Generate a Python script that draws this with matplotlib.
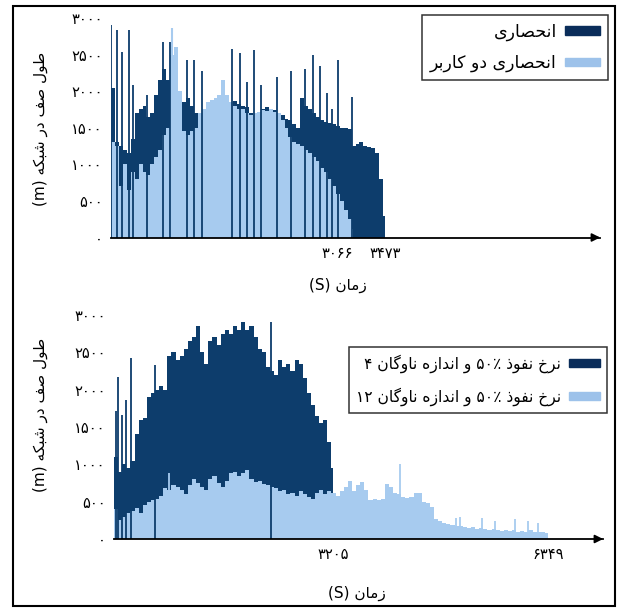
import re
import numpy as np
import matplotlib
matplotlib.use("Agg")
import matplotlib.pyplot as plt
from matplotlib.patches import Patch, Rectangle
from matplotlib.ticker import FuncFormatter

plt.rcParams['font.family'] = ['DejaVu Sans']

# ---- data ----
# top panel: exclusive vs exclusive two-user
t_top_dark = np.append(np.arange(0, 3473, 50), 3473)
top_dark = [2050, 1300, 1250, 1200, 1150, 1350, 1700, 1750, 1800, 1650,
            1700, 1950, 2150, 2300, 2150, 2050, 1900, 1750, 1850, 1900,
            1800, 1700, 1650, 1650, 1700, 1750, 1800, 1850, 1850, 1850,
            1850, 1870, 1820, 1800, 1780, 1700, 1680, 1720, 1750, 1780,
            1760, 1740, 1700, 1680, 1620, 1600, 1550, 1500, 1900, 1800,
            1750, 1700, 1650, 1600, 1580, 1560, 1550, 1530, 1500, 1500,
            1480, 1250, 1280, 1300, 1250, 1240, 1230, 1150, 800, 300, 0]
top_dark_spike_t = [0, 76, 140, 229, 280, 458, 662, 751, 967, 1056, 1158, 1539, 1641,
                    1730, 1819, 1908, 2099, 2277, 2455, 2557, 2646, 2735, 2799, 2875, 3053]
top_dark_spike_h = [2900, 2830, 2540, 2830, 2080, 1950, 2670, 2670, 2420, 2420, 2280, 2570, 2520,
                    2120, 2560, 2080, 2190, 2270, 2300, 2490, 2340, 1970, 1760, 2420, 1920]

t_top_light = np.append(np.arange(0, 3066, 50), 3066)
top_light = [1300, 1250, 700, 1000, 650, 900, 800, 1000, 900, 850,
             1000, 1100, 1200, 1400, 1500, 2500, 2600, 2000, 1450, 1400,
             1450, 1500, 1700, 1750, 1850, 1880, 1900, 1950, 2150, 1950,
             1850, 1800, 1760, 1750, 1700, 1680, 1700, 1720, 1740, 1730,
             1750, 1720, 1700, 1600, 1500, 1380, 1300, 1280, 1250, 1200,
             1150, 1100, 1050, 950, 900, 800, 700, 600, 500, 380,
             250, 120, 0]
top_light_spike_t = [776]
top_light_spike_h = [2860]

# bottom panel: 50% penetration, fleet size 4 vs 12
t_bot_dark = np.append(np.arange(0, 3205, 60), 3205)
bot_dark = [1100, 900, 1000, 950, 1050, 1400, 1600, 1620, 1900, 1950,
            2000, 2050, 2000, 2450, 2500, 2400, 2450, 2550, 2650, 2700,
            2850, 2500, 2350, 2650, 2700, 2600, 2750, 2800, 2750, 2850,
            2800, 2900, 2800, 2850, 2700, 2550, 2500, 2300, 2250, 2200,
            2400, 2300, 2350, 2250, 2400, 2350, 2150, 1950, 1800, 1650,
            1550, 1600, 1300, 950, 0]
bot_dark_spike_t = [23, 55, 114, 175, 248, 593, 2290]
bot_dark_spike_h = [1720, 2170, 1655, 1856, 2420, 2330, 2910]

t_bot_light = np.append(np.arange(0, 6349, 60), 6349)
bot_light = [400, 250, 300, 350, 380, 420, 350, 450, 500, 520,
             540, 580, 680, 650, 720, 700, 650, 600, 720, 800,
             750, 700, 650, 800, 850, 750, 700, 780, 880, 900,
             850, 880, 920, 800, 760, 780, 740, 720, 700, 680,
             640, 660, 600, 620, 580, 640, 600, 560, 540, 620,
             660, 600, 640, 620, 580, 640, 700, 780, 640, 720,
             760, 650, 520, 540, 520, 540, 740, 700, 620, 600,
             560, 550, 560, 620, 610, 500, 480, 430, 270, 240,
             210, 200, 190, 180, 170, 160, 150, 160, 140, 150,
             130, 120, 130, 120, 110, 120, 110, 120, 100, 110,
             100, 120, 100, 90, 100, 80, 0]
bot_light_spike_t = [803, 4175, 5007, 5066, 5387, 5577, 5869, 6058, 6204]
bot_light_spike_h = [890, 1010, 280, 290, 280, 240, 270, 240, 220]

yticks = [0, 500, 1000, 1500, 2000, 2500, 3000]
top_xticks = [3066, 3473]
bot_xticks = [3205, 6349]

DARK = '#0d3d6c'
LIGHT = '#a7cbef'

# ---- simple Persian shaping (presentation forms, visual order) ----
FORMS = {
    'ا': ('\uFE8D', '\uFE8E', None, None),
    'ب': ('\uFE8F', '\uFE90', '\uFE91', '\uFE92'),
    'ح': ('\uFEA1', '\uFEA2', '\uFEA3', '\uFEA4'),
    'خ': ('\uFEA5', '\uFEA6', '\uFEA7', '\uFEA8'),
    'د': ('\uFEA9', '\uFEAA', None, None),
    'ذ': ('\uFEAB', '\uFEAC', None, None),
    'ر': ('\uFEAD', '\uFEAE', None, None),
    'ز': ('\uFEAF', '\uFEB0', None, None),
    'ش': ('\uFEB5', '\uFEB6', '\uFEB7', '\uFEB8'),
    'ص': ('\uFEB9', '\uFEBA', '\uFEBB', '\uFEBC'),
    'ط': ('\uFEC1', '\uFEC2', '\uFEC3', '\uFEC4'),
    'ف': ('\uFED1', '\uFED2', '\uFED3', '\uFED4'),
    'ل': ('\uFEDD', '\uFEDE', '\uFEDF', '\uFEE0'),
    'م': ('\uFEE1', '\uFEE2', '\uFEE3', '\uFEE4'),
    'ن': ('\uFEE5', '\uFEE6', '\uFEE7', '\uFEE8'),
    'ه': ('\uFEE9', '\uFEEA', '\uFEEB', '\uFEEC'),
    'و': ('\uFEED', '\uFEEE', None, None),
    'ی': ('\uFBFC', '\uFBFD', '\uFBFE', '\uFBFF'),
    'ک': ('\uFB8E', '\uFB8F', '\uFB90', '\uFB91'),
    'گ': ('\uFB92', '\uFB93', '\uFB94', '\uFB95'),
}


def shape(s):
    out = []
    for i, c in enumerate(s):
        if c not in FORMS:
            out.append(c)
            continue
        prev = s[i - 1] if i > 0 else ''
        nxt = s[i + 1] if i + 1 < len(s) else ''
        pj = prev in FORMS and FORMS[prev][2] is not None
        nj = FORMS[c][2] is not None and nxt in FORMS
        iso, fin, ini, med = FORMS[c]
        if pj and nj:
            out.append(med)
        elif pj:
            out.append(fin)
        elif nj:
            out.append(ini)
        else:
            out.append(iso)
    return ''.join(out)


def fa(s):
    toks = re.split(r'([۰-۹٪]+)', shape(s))
    toks = [t if re.fullmatch(r'[۰-۹٪]+', t) else t[::-1] for t in toks]
    return ''.join(toks[::-1])


PDIG = str.maketrans('0123456789', '۰۱۲۳۴۵۶۷۸۹')
pfmt = FuncFormatter(lambda v, p: str(int(round(v))).translate(PDIG))

fig = plt.figure(figsize=(6.18, 6.08), dpi=100)
W, H = 618, 608


def axes_px(l, r, b, t):
    return fig.add_axes([l / W, 1 - b / H, (r - l) / W, (b - t) / H])


def style(ax, xmax, xt):
    ax.set_xlim(0, xmax)
    ax.set_ylim(0, 3000)
    for s in ['left', 'right', 'top']:
        ax.spines[s].set_visible(False)
    ax.spines['bottom'].set_linewidth(1.3)
    ax.set_yticks(yticks)
    ax.set_xticks(xt)
    ax.xaxis.set_major_formatter(pfmt)
    ax.yaxis.set_major_formatter(pfmt)
    ax.tick_params(length=0, labelsize=10.5, pad=6)
    ax.annotate('', xy=(1.006, 0), xytext=(0.98, 0), xycoords='axes fraction',
                arrowprops=dict(arrowstyle='-|>', color='k', lw=1.3, mutation_scale=12))


leg_kw = dict(markerfirst=False, loc='upper right', bbox_transform=fig.transFigure,
              frameon=True, fancybox=False, edgecolor='k', handlelength=2.0,
              handleheight=0.4, borderpad=0.45, handletextpad=0.5, borderaxespad=0)

# top panel
ax1 = axes_px(111, 600, 237.5, 18)
ax1.fill_between(t_top_dark, top_dark, step='post', color=DARK, lw=0)
ax1.vlines(top_dark_spike_t, 0, top_dark_spike_h, color=DARK, lw=1.3)
ax1.fill_between(t_top_light, top_light, step='post', color=LIGHT, lw=0)
ax1.vlines(top_light_spike_t, 0, top_light_spike_h, color=LIGHT, lw=1.5)
style(ax1, 6200, top_xticks)
fig.canvas.draw()
ax1.get_xticklabels()[0].set_ha('right')
h1 = [Patch(color='#0a2d5a'), Patch(color='#9dc2ea')]
lg1 = ax1.legend(h1, [fa('انحصاری'), fa('انحصاری دو کاربر')],
                 bbox_to_anchor=(608 / W, 1 - 15 / H), fontsize=12.5, labelspacing=0.75, **leg_kw)
lg1.get_frame().set_linewidth(1.1)

# bottom panel
ax2 = axes_px(114, 603, 539, 315)
ax2.fill_between(t_bot_dark, bot_dark, step='post', color=DARK, lw=0)
ax2.vlines(bot_dark_spike_t, 0, bot_dark_spike_h, color=DARK, lw=1.3)
ax2.fill_between(t_bot_light, bot_light, step='post', color=LIGHT, lw=0)
ax2.vlines(bot_light_spike_t, 0, bot_light_spike_h, color=LIGHT, lw=1.3)
style(ax2, 7150, bot_xticks)
h2 = [Patch(color='#0a2d5a'), Patch(color='#9dc2ea')]
lg2 = ax2.legend(h2, [fa('نرخ نفوذ ۵۰٪ و اندازه ناوگان ۴'), fa('نرخ نفوذ ۵۰٪ و اندازه ناوگان ۱۲')],
                 bbox_to_anchor=(607 / W, 1 - 347 / H), fontsize=11.2, labelspacing=0.95, **leg_kw)
lg2.get_frame().set_linewidth(1.1)

ylab = '(m) ' + fa('طول صف در شبکه')
xlab = '(S) ' + fa('زمان')
fig.text(40 / W, 1 - 129 / H, ylab, rotation=90, ha='center', va='center', fontsize=11)
fig.text(40 / W, 1 - 415 / H, ylab, rotation=90, ha='center', va='center', fontsize=11)
fig.text(338 / W, 1 - 285 / H, xlab, ha='center', va='center', fontsize=11)
fig.text(357 / W, 1 - 593 / H, xlab, ha='center', va='center', fontsize=11)

fig.patches.append(Rectangle((12.5 / W, 2 / H), (615 - 12.5) / W, 600 / H, transform=fig.transFigure,
                             fill=False, ec='k', lw=1.5))

fig.savefig('out.png', dpi=100)
